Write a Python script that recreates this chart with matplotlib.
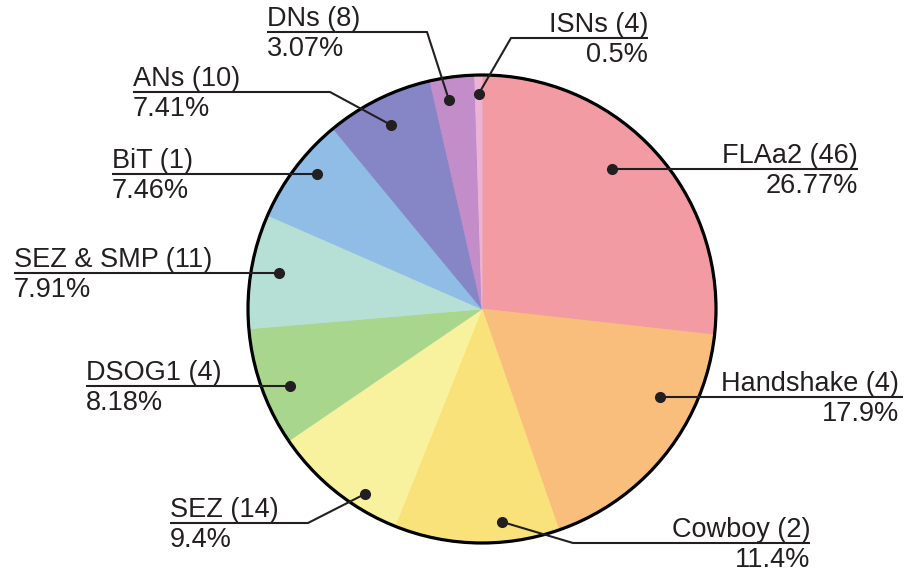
import numpy as np
import matplotlib
matplotlib.use('Agg')
import matplotlib.pyplot as plt
from matplotlib.patches import Circle

plt.rcParams['font.family'] = ['Liberation Sans', 'DejaVu Sans']

# data
names = ['FLAa2', 'Handshake', 'Cowboy', 'SEZ', 'DSOG1', 'SEZ & SMP', 'BiT', 'ANs', 'DNs', 'ISNs']
counts = [46, 4, 2, 14, 4, 11, 1, 10, 8, 4]
percents = [26.77, 17.9, 11.4, 9.4, 8.18, 7.91, 7.46, 7.41, 3.07, 0.5]
colors = ['#F39BA2', '#F9BD7C', '#F9E27A', '#F8F29E', '#A9D68D',
          '#B6E0D6', '#90BDE6', '#8686C6', '#C28DC9', '#EBB3D6']

W, H = 905, 571
CX, CY, R = 482, 309, 234   # pie centre / radius in pixels (y down)
ink = '#231F20'

def P(x, y):
    # pixel (y down) -> axes data (y up)
    return x, H - y

# label layout: side, line x end (text anchor), line y, elbow point,
# t = position inside the wedge span, r = fraction of radius for the dot
layout = [
    dict(side='right', x=858, y=169, elbow=None, t=0.555, r=0.816),
    dict(side='right', x=903, y=397, elbow=None, t=0.691, r=0.849, tx=899),
    dict(side='right', x=810, y=543, elbow=(573, 543), t=0.664, r=0.914),
    dict(side='left', x=170, y=523, elbow=(308, 523), t=0.691, r=0.935),
    dict(side='left', x=86, y=386, elbow=None, t=0.577, r=0.884),
    dict(side='left', x=14, y=273, elbow=None, t=0.478, r=0.881),
    dict(side='left', x=112, y=174, elbow=None, t=0.416, r=0.911),
    dict(side='left', x=133, y=92, elbow=(330, 92), t=0.504, r=0.877),
    dict(side='left', x=267, y=32, elbow=(427, 32), t=0.65, r=0.904),
    dict(side='right', x=648, y=38, elbow=(511, 38), t=0.5, r=0.919),
]

fig = plt.figure(figsize=(W / 100, H / 100), dpi=100)
ax = fig.add_axes([0, 0, 1, 1])

wedges, _ = ax.pie(percents, colors=colors, startangle=90, counterclock=False,
                   center=P(CX, CY), radius=R, frame=True,
                   wedgeprops=dict(linewidth=0.6))
for w, c in zip(wedges, colors):
    w.set_edgecolor(c)

ax.add_patch(Circle(P(CX, CY), R, fill=False, edgecolor='black', lw=2.3, zorder=3))

for w, name, n, p, lay in zip(wedges, names, counts, percents, layout):
    th = np.deg2rad(w.theta1 + lay['t'] * (w.theta2 - w.theta1))
    dx = CX + lay['r'] * R * np.cos(th)
    dy = CY - lay['r'] * R * np.sin(th)
    ly = lay['y']
    pts = [(dx, dy)]
    if lay['elbow'] is not None:
        pts.append(lay['elbow'])
    else:
        pts.append((pts[0][0], ly))
    pts.append((lay['x'], ly))
    xs = [P(*q)[0] for q in pts]
    ys = [P(*q)[1] for q in pts]
    ax.plot(xs, ys, color=ink, lw=1.5, zorder=4, solid_capstyle='butt')
    ax.plot(*P(dx, dy), 'o', color=ink, ms=7, zorder=5)

    ha = 'right' if lay['side'] == 'right' else 'left'
    tx = lay.get('tx', lay['x'])
    ax.text(*P(tx, ly - 6), f'{name} ({n})', ha=ha, va='baseline',
            fontsize=19.5, color=ink)
    ax.text(*P(tx, ly + 24), f'{p}%', ha=ha, va='baseline',
            fontsize=19.5, color=ink)

ax.set_xlim(0, W)
ax.set_ylim(0, H)
ax.set_aspect('equal')
ax.axis('off')

fig.savefig('out.png', dpi=100)
